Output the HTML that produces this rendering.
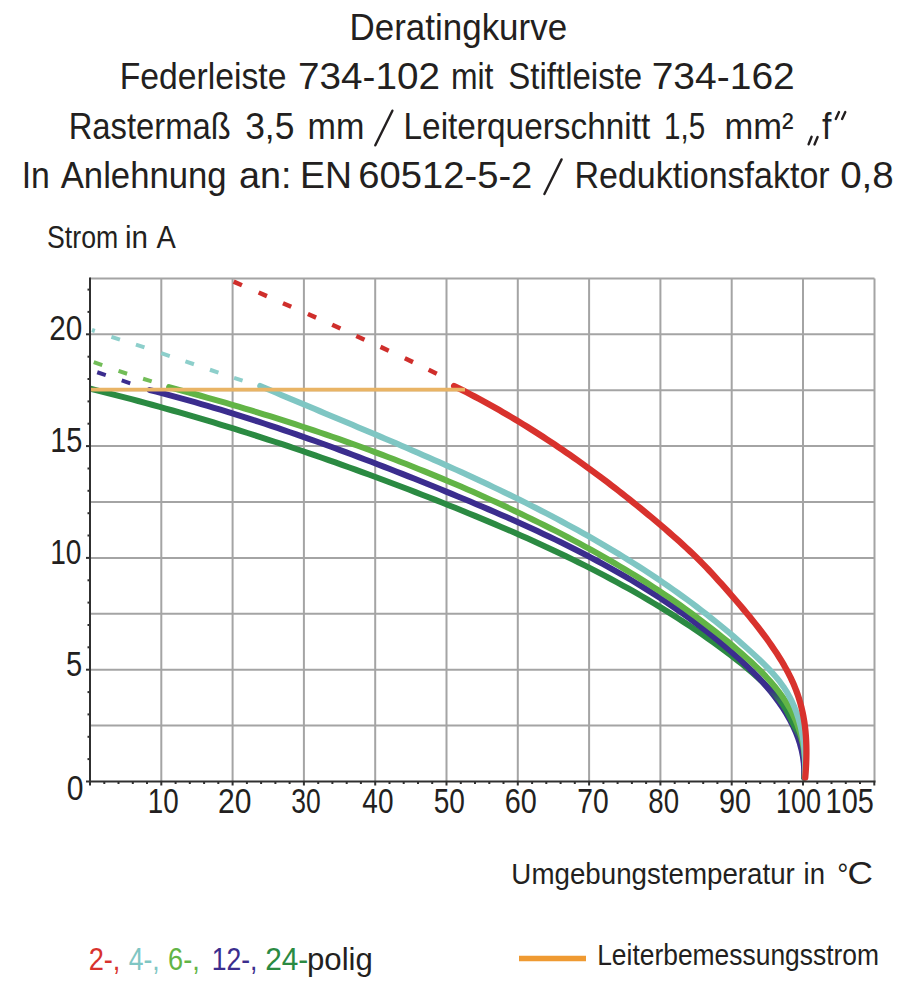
<!DOCTYPE html>
<html><head><meta charset="utf-8"><title>Deratingkurve</title>
<style>html,body{margin:0;padding:0;background:#fff;}body{width:917px;height:1000px;overflow:hidden;font-family:"Liberation Sans",sans-serif;}svg{display:block;}</style>
</head><body>
<svg width="917" height="1000" viewBox="0 0 917 1000" font-family="Liberation Sans, sans-serif" style="font-kerning:none">
<text x="349.53" y="40.00" font-size="37.00" textLength="217.62" lengthAdjust="spacingAndGlyphs" fill="#231f20">Deratingkurve</text>
<text x="119.73" y="89.20" font-size="37.00" textLength="166.76" lengthAdjust="spacingAndGlyphs" fill="#231f20">Federleiste</text>
<text x="298.02" y="89.20" font-size="37.00" textLength="141.93" lengthAdjust="spacingAndGlyphs" fill="#231f20">734-102</text>
<text x="450.88" y="89.20" font-size="37.00" textLength="42.55" lengthAdjust="spacingAndGlyphs" fill="#231f20">mit</text>
<text x="508.30" y="89.20" font-size="37.00" textLength="133.86" lengthAdjust="spacingAndGlyphs" fill="#231f20">Stiftleiste</text>
<text x="651.70" y="89.20" font-size="37.00" textLength="143.06" lengthAdjust="spacingAndGlyphs" fill="#231f20">734-162</text>
<text x="68.71" y="138.80" font-size="37.00" textLength="162.03" lengthAdjust="spacingAndGlyphs" fill="#231f20">Rastermaß</text>
<text x="245.15" y="138.80" font-size="37.00" textLength="49.24" lengthAdjust="spacingAndGlyphs" fill="#231f20">3,5</text>
<text x="307.53" y="138.80" font-size="37.00" textLength="56.92" lengthAdjust="spacingAndGlyphs" fill="#231f20">mm</text>
<text x="403.56" y="138.80" font-size="37.00" textLength="246.68" lengthAdjust="spacingAndGlyphs" fill="#231f20">Leiterquerschnitt</text>
<text x="664.04" y="138.80" font-size="37.00" textLength="41.20" lengthAdjust="spacingAndGlyphs" fill="#231f20">1,5</text>
<text x="724.51" y="138.80" font-size="37.00" textLength="69.05" lengthAdjust="spacingAndGlyphs" fill="#231f20">mm²</text>
<text x="822.12" y="138.80" font-size="37.00" textLength="9.43" lengthAdjust="spacingAndGlyphs" fill="#231f20">f</text>
<text x="21.68" y="188.00" font-size="37.00" textLength="28.22" lengthAdjust="spacingAndGlyphs" fill="#231f20">In</text>
<text x="60.73" y="188.00" font-size="37.00" textLength="165.90" lengthAdjust="spacingAndGlyphs" fill="#231f20">Anlehnung</text>
<text x="239.10" y="188.00" font-size="37.00" textLength="52.45" lengthAdjust="spacingAndGlyphs" fill="#231f20">an:</text>
<text x="299.93" y="188.00" font-size="37.00" textLength="52.03" lengthAdjust="spacingAndGlyphs" fill="#231f20">EN</text>
<text x="358.36" y="188.00" font-size="37.00" textLength="173.96" lengthAdjust="spacingAndGlyphs" fill="#231f20">60512-5-2</text>
<text x="574.41" y="188.00" font-size="37.00" textLength="255.26" lengthAdjust="spacingAndGlyphs" fill="#231f20">Reduktionsfaktor</text>
<text x="840.19" y="188.00" font-size="37.00" textLength="53.58" lengthAdjust="spacingAndGlyphs" fill="#231f20">0,8</text>
<line x1="375.3" y1="145.3" x2="392.4" y2="110.7" stroke="#231f20" stroke-width="2.4" stroke-linecap="round"/>
<line x1="544.4" y1="194.0" x2="561.6" y2="159.4" stroke="#231f20" stroke-width="2.4" stroke-linecap="round"/>
<line x1="808.6" y1="144.3" x2="811.6" y2="136.8" stroke="#231f20" stroke-width="2.4" stroke-linecap="round"/>
<line x1="814.5" y1="144.5" x2="817.6" y2="137.0" stroke="#231f20" stroke-width="2.4" stroke-linecap="round"/>
<line x1="835.8" y1="119.0" x2="839.0" y2="112.0" stroke="#231f20" stroke-width="2.4" stroke-linecap="round"/>
<line x1="842.1" y1="119.0" x2="845.3" y2="112.0" stroke="#231f20" stroke-width="2.4" stroke-linecap="round"/>
<text x="47.09" y="248.20" font-size="30.50" textLength="71.07" lengthAdjust="spacingAndGlyphs" fill="#231f20">Strom</text>
<text x="124.92" y="248.20" font-size="30.50" textLength="23.00" lengthAdjust="spacingAndGlyphs" fill="#231f20">in</text>
<text x="156.44" y="248.20" font-size="30.50" textLength="19.31" lengthAdjust="spacingAndGlyphs" fill="#231f20">A</text>
<g stroke="#a4a4a4" stroke-width="2"><line x1="161.3" y1="278.4" x2="161.3" y2="781.5"/><line x1="232.6" y1="278.4" x2="232.6" y2="781.5"/><line x1="303.9" y1="278.4" x2="303.9" y2="781.5"/><line x1="375.2" y1="278.4" x2="375.2" y2="781.5"/><line x1="446.5" y1="278.4" x2="446.5" y2="781.5"/><line x1="517.8" y1="278.4" x2="517.8" y2="781.5"/><line x1="589.1" y1="278.4" x2="589.1" y2="781.5"/><line x1="660.4" y1="278.4" x2="660.4" y2="781.5"/><line x1="731.7" y1="278.4" x2="731.7" y2="781.5"/><line x1="803.0" y1="278.4" x2="803.0" y2="781.5"/><line x1="874.5" y1="278.4" x2="874.5" y2="781.5"/><line x1="90.0" y1="725.6" x2="874.5" y2="725.6"/><line x1="90.0" y1="669.7" x2="874.5" y2="669.7"/><line x1="90.0" y1="613.8" x2="874.5" y2="613.8"/><line x1="90.0" y1="557.9" x2="874.5" y2="557.9"/><line x1="90.0" y1="502.0" x2="874.5" y2="502.0"/><line x1="90.0" y1="446.1" x2="874.5" y2="446.1"/><line x1="90.0" y1="390.2" x2="874.5" y2="390.2"/><line x1="90.0" y1="334.3" x2="874.5" y2="334.3"/><line x1="90.0" y1="278.4" x2="874.5" y2="278.4"/></g>
<line x1="233.68" y1="281.60" x2="241.92" y2="285.20" stroke="#cf2e2b" stroke-width="4.5"/>
<line x1="258.68" y1="292.49" x2="266.92" y2="296.11" stroke="#cf2e2b" stroke-width="4.5"/>
<line x1="282.98" y1="303.20" x2="291.22" y2="306.80" stroke="#cf2e2b" stroke-width="4.5"/>
<line x1="307.88" y1="313.99" x2="316.12" y2="317.61" stroke="#cf2e2b" stroke-width="4.5"/>
<line x1="332.20" y1="324.74" x2="340.40" y2="328.46" stroke="#cf2e2b" stroke-width="4.5"/>
<line x1="356.31" y1="335.92" x2="364.49" y2="339.68" stroke="#cf2e2b" stroke-width="4.5"/>
<line x1="380.51" y1="346.91" x2="388.69" y2="350.69" stroke="#cf2e2b" stroke-width="4.5"/>
<line x1="404.84" y1="358.27" x2="412.96" y2="362.13" stroke="#cf2e2b" stroke-width="4.5"/>
<line x1="428.65" y1="369.74" x2="436.75" y2="373.66" stroke="#cf2e2b" stroke-width="4.5"/>
<line x1="91.98" y1="330.01" x2="94.82" y2="330.99" stroke="#8dcfcb" stroke-width="4.0"/>
<line x1="111.43" y1="336.79" x2="119.97" y2="339.61" stroke="#8dcfcb" stroke-width="4.0"/>
<line x1="135.93" y1="344.59" x2="144.47" y2="347.41" stroke="#8dcfcb" stroke-width="4.0"/>
<line x1="161.24" y1="353.15" x2="169.76" y2="356.05" stroke="#8dcfcb" stroke-width="4.0"/>
<line x1="185.44" y1="361.35" x2="193.96" y2="364.25" stroke="#8dcfcb" stroke-width="4.0"/>
<line x1="209.94" y1="369.76" x2="218.46" y2="372.64" stroke="#8dcfcb" stroke-width="4.0"/>
<line x1="234.03" y1="377.78" x2="242.57" y2="380.62" stroke="#8dcfcb" stroke-width="4.0"/>
<line x1="93.75" y1="362.11" x2="102.25" y2="365.09" stroke="#72bd58" stroke-width="4.0"/>
<line x1="118.53" y1="370.87" x2="127.07" y2="373.73" stroke="#72bd58" stroke-width="4.0"/>
<line x1="143.11" y1="378.74" x2="151.69" y2="381.46" stroke="#72bd58" stroke-width="4.0"/>
<line x1="97.23" y1="372.27" x2="105.77" y2="375.13" stroke="#3b2d8e" stroke-width="4.0"/>
<line x1="121.73" y1="380.47" x2="130.27" y2="383.33" stroke="#3b2d8e" stroke-width="4.0"/>
<defs><clipPath id="plot"><rect x="91" y="270" width="790" height="511"/></clipPath></defs><g clip-path="url(#plot)">
<path d="M89.96,388.60 L96.88,390.31 L103.79,392.04 L110.70,393.80 L117.60,395.57 L124.49,397.37 L131.38,399.18 L138.26,401.02 L145.13,402.87 L152.00,404.75 L158.87,406.64 L165.73,408.55 L172.58,410.49 L179.43,412.44 L186.27,414.41 L193.10,416.40 L199.93,418.41 L206.75,420.44 L213.57,422.49 L220.38,424.55 L227.19,426.64 L233.99,428.74 L240.78,430.86 L247.57,433.00 L254.36,435.16 L261.13,437.34 L267.90,439.53 L274.67,441.74 L281.43,443.97 L288.18,446.22 L294.93,448.48 L301.67,450.77 L308.41,453.07 L315.14,455.38 L321.87,457.72 L328.58,460.07 L335.30,462.44 L342.01,464.82 L348.71,467.22 L355.40,469.64 L362.10,472.07 L368.78,474.52 L375.46,476.99 L382.13,479.47 L388.80,481.97 L395.46,484.49 L402.12,487.02 L408.77,489.56 L415.42,492.13 L422.05,494.70 L428.69,497.30 L435.32,499.91 L441.94,502.53 L448.56,505.17 L455.17,507.82 L461.77,510.49 L468.37,513.18 L474.96,515.89 L481.54,518.61 L488.11,521.36 L494.67,524.12 L501.23,526.91 L507.77,529.73 L514.30,532.56 L520.82,535.43 L527.32,538.32 L533.81,541.23 L540.29,544.18 L546.75,547.15 L553.20,550.16 L559.63,553.19 L566.05,556.26 L572.44,559.37 L578.82,562.50 L585.18,565.68 L591.53,568.89 L597.85,572.13 L604.15,575.42 L610.43,578.75 L616.69,582.11 L622.93,585.52 L629.14,588.97 L635.33,592.47 L641.50,596.01 L647.64,599.59 L653.75,603.22 L659.84,606.90 L665.91,610.63 L671.94,614.41 L677.95,618.24 L683.93,622.12 L689.88,626.05 L695.80,630.04 L701.69,634.08 L707.55,638.18 L713.38,642.33 L719.17,646.54 L724.93,650.82 L730.66,655.15 L736.35,659.54 L741.98,664.01 L747.54,668.56 L752.99,673.21 L758.30,677.97 L763.47,682.86 L768.44,687.88 L773.22,693.06 L777.75,698.40 L782.03,703.92 L786.03,709.63 L789.72,715.55 L793.07,721.66 L796.05,727.98 L798.63,734.50 L800.79,741.21 L802.48,748.12 L803.69,755.22 L804.38,762.50 L804.52,769.97 L804.08,777.63" fill="none" stroke="#2b8a42" stroke-width="6.0" stroke-linecap="round" stroke-linejoin="round"/>
<path d="M149.80,390.04 L156.26,391.70 L162.72,393.39 L169.16,395.10 L175.60,396.84 L182.02,398.60 L188.44,400.39 L194.85,402.21 L201.25,404.05 L207.64,405.92 L214.02,407.81 L220.40,409.72 L226.76,411.66 L233.12,413.62 L239.47,415.60 L245.81,417.60 L252.14,419.63 L258.47,421.68 L264.79,423.75 L271.10,425.84 L277.40,427.95 L283.70,430.08 L289.99,432.23 L296.28,434.40 L302.55,436.59 L308.83,438.80 L315.09,441.02 L321.35,443.26 L327.60,445.53 L333.85,447.80 L340.10,450.10 L346.33,452.41 L352.56,454.74 L358.79,457.08 L365.01,459.44 L371.23,461.82 L377.44,464.21 L383.65,466.61 L389.86,469.03 L396.06,471.46 L402.25,473.90 L408.44,476.36 L414.63,478.83 L420.82,481.31 L427.00,483.80 L433.18,486.30 L439.35,488.82 L445.52,491.35 L451.69,493.88 L457.86,496.43 L464.02,498.99 L470.18,501.56 L476.33,504.15 L482.47,506.76 L488.61,509.38 L494.74,512.01 L500.86,514.67 L506.97,517.35 L513.07,520.05 L519.16,522.77 L525.23,525.52 L531.29,528.29 L537.34,531.09 L543.38,533.91 L549.39,536.76 L555.40,539.64 L561.38,542.55 L567.35,545.50 L573.30,548.47 L579.23,551.48 L585.13,554.53 L591.02,557.61 L596.89,560.73 L602.73,563.89 L608.55,567.08 L614.34,570.32 L620.11,573.60 L625.86,576.92 L631.57,580.29 L637.26,583.70 L642.92,587.16 L648.55,590.66 L654.15,594.22 L659.72,597.82 L665.26,601.48 L670.77,605.18 L676.24,608.94 L681.68,612.76 L687.09,616.63 L692.46,620.56 L697.79,624.54 L703.08,628.58 L708.34,632.69 L713.56,636.85 L718.73,641.08 L723.87,645.37 L728.97,649.73 L734.02,654.15 L739.03,658.64 L743.96,663.20 L748.82,667.84 L753.59,672.57 L758.25,677.39 L762.78,682.30 L767.18,687.30 L771.42,692.42 L775.50,697.64 L779.39,702.97 L783.09,708.43 L786.57,714.01 L789.83,719.71 L792.82,725.55 L795.52,731.52 L797.91,737.63 L799.96,743.87 L801.64,750.26 L802.93,756.79 L803.80,763.46 L804.23,770.29 L804.18,777.26" fill="none" stroke="#3b2d8e" stroke-width="6.0" stroke-linecap="round" stroke-linejoin="round"/>
<defs><linearGradient id="dgo" gradientUnits="userSpaceOnUse" x1="0" y1="690" x2="0" y2="745"><stop offset="0" stop-color="#2b8a42" stop-opacity="0"/><stop offset="0.25" stop-color="#2b8a42" stop-opacity="1"/><stop offset="0.7" stop-color="#2b8a42" stop-opacity="1"/><stop offset="1" stop-color="#2b8a42" stop-opacity="0"/></linearGradient></defs>
<path d="M748.45,668.74 L749.76,669.94 L751.07,671.14 L752.38,672.34 L753.70,673.54 L755.02,674.74 L756.34,675.95 L757.65,677.15 L758.97,678.36 L760.28,679.58 L761.58,680.80 L762.88,682.03 L764.18,683.26 L765.46,684.50 L766.73,685.75 L768.00,687.01 L769.25,688.28 L770.48,689.56 L771.71,690.85 L772.91,692.15 L774.10,693.47 L775.27,694.80 L776.42,696.15 L777.55,697.51 L778.66,698.88 L779.75,700.28 L780.81,701.69 L781.84,703.12 L782.85,704.57 L783.82,706.04 L784.77,707.54 L785.69,709.05 L786.58,710.59 L787.43,712.15 L788.27,713.72 L789.08,715.31 L789.87,716.92 L790.66,718.53 L791.44,720.14 L792.22,721.76 L793.01,723.37 L793.81,724.98 L794.63,726.58 L795.45,728.17 L796.28,729.76 L797.10,731.34 L797.91,732.93 L798.70,734.52 L799.46,736.12 L800.18,737.72 L800.87,739.34 L801.50,740.97 L802.08,742.62 L802.58,744.28 L803.01,745.98 L803.35,747.70 L803.58,749.45 L803.71,751.25 L803.71,753.08 L803.58,754.96" fill="none" stroke="url(#dgo)" stroke-width="6.0" stroke-linecap="butt" stroke-linejoin="round"/>
<path d="M169.05,387.15 L175.39,388.84 L181.73,390.54 L188.06,392.26 L194.39,394.00 L200.72,395.76 L207.04,397.53 L213.35,399.32 L219.67,401.12 L225.97,402.95 L232.27,404.79 L238.57,406.65 L244.86,408.53 L251.15,410.43 L257.43,412.34 L263.71,414.27 L269.98,416.22 L276.24,418.19 L282.50,420.18 L288.75,422.19 L295.00,424.21 L301.24,426.26 L307.48,428.32 L313.70,430.41 L319.93,432.51 L326.14,434.63 L332.35,436.78 L338.55,438.94 L344.74,441.12 L350.93,443.33 L357.11,445.55 L363.28,447.79 L369.44,450.06 L375.60,452.34 L381.75,454.65 L387.89,456.98 L394.02,459.32 L400.15,461.69 L406.26,464.08 L412.37,466.50 L418.47,468.93 L424.56,471.38 L430.64,473.86 L436.71,476.36 L442.78,478.88 L448.83,481.43 L454.88,483.99 L460.91,486.58 L466.94,489.19 L472.95,491.83 L478.96,494.48 L484.96,497.16 L490.94,499.87 L496.92,502.59 L502.88,505.34 L508.84,508.12 L514.78,510.92 L520.72,513.74 L526.64,516.58 L532.55,519.45 L538.45,522.35 L544.34,525.27 L550.21,528.22 L556.07,531.20 L561.91,534.20 L567.73,537.24 L573.55,540.30 L579.34,543.40 L585.11,546.52 L590.87,549.68 L596.61,552.87 L602.33,556.09 L608.03,559.35 L613.70,562.64 L619.36,565.97 L624.99,569.33 L630.60,572.73 L636.19,576.16 L641.75,579.64 L647.29,583.15 L652.80,586.70 L658.29,590.29 L663.75,593.93 L669.18,597.60 L674.58,601.32 L679.96,605.07 L685.30,608.88 L690.62,612.72 L695.90,616.61 L701.15,620.55 L706.37,624.53 L711.56,628.56 L716.71,632.64 L721.83,636.76 L726.91,640.94 L731.96,645.16 L736.98,649.43 L741.95,653.76 L746.89,658.14 L751.76,662.58 L756.56,667.09 L761.25,671.70 L765.81,676.41 L770.23,681.23 L774.47,686.17 L778.52,691.25 L782.36,696.48 L785.96,701.88 L789.30,707.45 L792.36,713.20 L795.12,719.13 L797.57,725.22 L799.70,731.44 L801.49,737.78 L802.94,744.22 L804.03,750.72 L804.75,757.29 L805.09,763.88 L805.04,770.49 L804.57,777.09" fill="none" stroke="#62b446" stroke-width="6.0" stroke-linecap="round" stroke-linejoin="round"/>
<path d="M260.21,385.96 L265.59,388.26 L270.99,390.55 L276.39,392.85 L281.79,395.14 L287.21,397.42 L292.62,399.71 L298.05,401.99 L303.47,404.27 L308.90,406.56 L314.34,408.84 L319.78,411.12 L325.22,413.40 L330.66,415.68 L336.11,417.97 L341.56,420.26 L347.01,422.55 L352.46,424.84 L357.92,427.14 L363.37,429.44 L368.82,431.74 L374.28,434.05 L379.73,436.37 L385.18,438.69 L390.63,441.02 L396.08,443.35 L401.53,445.70 L406.97,448.05 L412.41,450.40 L417.85,452.77 L423.29,455.15 L428.72,457.53 L434.15,459.93 L439.57,462.34 L444.99,464.75 L450.40,467.18 L455.80,469.63 L461.20,472.08 L466.60,474.55 L471.98,477.03 L477.36,479.52 L482.74,482.03 L488.10,484.56 L493.46,487.10 L498.80,489.65 L504.14,492.22 L509.47,494.81 L514.79,497.42 L520.10,500.04 L525.40,502.68 L530.68,505.34 L535.96,508.02 L541.22,510.72 L546.47,513.44 L551.71,516.18 L556.94,518.94 L562.16,521.73 L567.36,524.53 L572.54,527.36 L577.71,530.21 L582.87,533.08 L588.01,535.98 L593.14,538.90 L598.25,541.85 L603.35,544.82 L608.43,547.82 L613.49,550.84 L618.54,553.90 L623.56,556.97 L628.57,560.08 L633.56,563.21 L638.54,566.38 L643.49,569.57 L648.42,572.79 L653.34,576.04 L658.23,579.32 L663.10,582.64 L667.96,585.98 L672.79,589.36 L677.60,592.77 L682.39,596.21 L687.15,599.69 L691.89,603.20 L696.61,606.74 L701.31,610.32 L705.98,613.93 L710.63,617.58 L715.25,621.27 L719.85,624.99 L724.42,628.75 L728.97,632.55 L733.49,636.38 L737.99,640.26 L742.46,644.17 L746.90,648.12 L751.31,652.11 L755.69,656.15 L760.03,660.23 L764.29,664.38 L768.45,668.61 L772.47,672.95 L776.33,677.39 L779.98,681.97 L783.42,686.70 L786.59,691.59 L789.49,696.65 L792.12,701.88 L794.48,707.24 L796.57,712.75 L798.41,718.37 L800.01,724.08 L801.37,729.88 L802.50,735.74 L803.42,741.64 L804.13,747.56 L804.65,753.49 L804.98,759.41 L805.14,765.29 L805.13,771.13 L804.97,776.89" fill="none" stroke="#7fc6c3" stroke-width="6.0" stroke-linecap="round" stroke-linejoin="round"/>
<path d="M454.11,386.01 L458.27,388.08 L462.42,390.18 L466.56,392.30 L470.68,394.44 L474.79,396.61 L478.89,398.80 L482.98,401.01 L487.06,403.25 L491.12,405.50 L495.17,407.78 L499.21,410.08 L503.24,412.40 L507.26,414.75 L511.26,417.11 L515.26,419.49 L519.24,421.90 L523.20,424.33 L527.16,426.77 L531.11,429.24 L535.04,431.72 L538.96,434.23 L542.87,436.75 L546.77,439.29 L550.66,441.85 L554.53,444.43 L558.40,447.03 L562.25,449.65 L566.09,452.28 L569.92,454.93 L573.73,457.60 L577.54,460.29 L581.33,462.99 L585.11,465.71 L588.88,468.44 L592.64,471.19 L596.39,473.96 L600.13,476.74 L603.85,479.54 L607.57,482.35 L611.27,485.18 L614.96,488.02 L618.64,490.88 L622.30,493.75 L625.96,496.63 L629.60,499.53 L633.24,502.44 L636.86,505.37 L640.47,508.31 L644.07,511.26 L647.66,514.22 L651.23,517.19 L654.80,520.18 L658.36,523.18 L661.90,526.19 L665.43,529.22 L668.95,532.25 L672.45,535.31 L675.93,538.38 L679.39,541.47 L682.83,544.58 L686.24,547.72 L689.62,550.89 L692.98,554.08 L696.30,557.31 L699.58,560.57 L702.84,563.86 L706.05,567.18 L709.24,570.54 L712.40,573.92 L715.54,577.33 L718.65,580.76 L721.75,584.22 L724.83,587.69 L727.90,591.19 L730.96,594.70 L734.02,598.22 L737.07,601.76 L740.10,605.31 L743.12,608.89 L746.13,612.48 L749.11,616.09 L752.06,619.72 L754.99,623.37 L757.88,627.05 L760.74,630.75 L763.55,634.48 L766.32,638.24 L769.04,642.02 L771.72,645.84 L774.33,649.69 L776.89,653.57 L779.38,657.49 L781.81,661.44 L784.16,665.43 L786.42,669.47 L788.59,673.54 L790.65,677.67 L792.60,681.83 L794.43,686.05 L796.14,690.32 L797.70,694.64 L799.13,699.02 L800.42,703.44 L801.58,707.90 L802.61,712.41 L803.51,716.95 L804.28,721.53 L804.92,726.14 L805.44,730.78 L805.84,735.44 L806.13,740.11 L806.31,744.80 L806.40,749.50 L806.40,754.20 L806.31,758.90 L806.15,763.58 L805.91,768.26 L805.62,772.91 L805.26,777.55" fill="none" stroke="#d8322d" stroke-width="6.3" stroke-linecap="round" stroke-linejoin="round"/>
</g>
<line x1="90" y1="389.6" x2="465" y2="389.6" stroke="#e9b465" stroke-width="3.6"/>
<g stroke="#303030" stroke-width="2"><line x1="90.0" y1="277.4" x2="90.0" y2="782.5"/><line x1="89.0" y1="781.5" x2="875.5" y2="781.5"/><line x1="86.0" y1="781.5" x2="90.0" y2="781.5"/><line x1="87.5" y1="759.1" x2="90.0" y2="759.1"/><line x1="87.5" y1="736.8" x2="90.0" y2="736.8"/><line x1="87.5" y1="714.4" x2="90.0" y2="714.4"/><line x1="87.5" y1="692.1" x2="90.0" y2="692.1"/><line x1="86.0" y1="669.7" x2="90.0" y2="669.7"/><line x1="87.5" y1="647.3" x2="90.0" y2="647.3"/><line x1="87.5" y1="625.0" x2="90.0" y2="625.0"/><line x1="87.5" y1="602.6" x2="90.0" y2="602.6"/><line x1="87.5" y1="580.3" x2="90.0" y2="580.3"/><line x1="86.0" y1="557.9" x2="90.0" y2="557.9"/><line x1="87.5" y1="535.5" x2="90.0" y2="535.5"/><line x1="87.5" y1="513.2" x2="90.0" y2="513.2"/><line x1="87.5" y1="490.8" x2="90.0" y2="490.8"/><line x1="87.5" y1="468.5" x2="90.0" y2="468.5"/><line x1="86.0" y1="446.1" x2="90.0" y2="446.1"/><line x1="87.5" y1="423.7" x2="90.0" y2="423.7"/><line x1="87.5" y1="401.4" x2="90.0" y2="401.4"/><line x1="87.5" y1="379.0" x2="90.0" y2="379.0"/><line x1="87.5" y1="356.7" x2="90.0" y2="356.7"/><line x1="86.0" y1="334.3" x2="90.0" y2="334.3"/><line x1="87.5" y1="311.9" x2="90.0" y2="311.9"/><line x1="87.5" y1="289.6" x2="90.0" y2="289.6"/><line x1="90.0" y1="781.5" x2="90.0" y2="785.5"/><line x1="104.3" y1="781.5" x2="104.3" y2="784.0"/><line x1="118.5" y1="781.5" x2="118.5" y2="784.0"/><line x1="132.8" y1="781.5" x2="132.8" y2="784.0"/><line x1="147.0" y1="781.5" x2="147.0" y2="784.0"/><line x1="161.3" y1="781.5" x2="161.3" y2="785.5"/><line x1="175.6" y1="781.5" x2="175.6" y2="784.0"/><line x1="189.8" y1="781.5" x2="189.8" y2="784.0"/><line x1="204.1" y1="781.5" x2="204.1" y2="784.0"/><line x1="218.3" y1="781.5" x2="218.3" y2="784.0"/><line x1="232.6" y1="781.5" x2="232.6" y2="785.5"/><line x1="246.9" y1="781.5" x2="246.9" y2="784.0"/><line x1="261.1" y1="781.5" x2="261.1" y2="784.0"/><line x1="275.4" y1="781.5" x2="275.4" y2="784.0"/><line x1="289.6" y1="781.5" x2="289.6" y2="784.0"/><line x1="303.9" y1="781.5" x2="303.9" y2="785.5"/><line x1="318.2" y1="781.5" x2="318.2" y2="784.0"/><line x1="332.4" y1="781.5" x2="332.4" y2="784.0"/><line x1="346.7" y1="781.5" x2="346.7" y2="784.0"/><line x1="360.9" y1="781.5" x2="360.9" y2="784.0"/><line x1="375.2" y1="781.5" x2="375.2" y2="785.5"/><line x1="389.5" y1="781.5" x2="389.5" y2="784.0"/><line x1="403.7" y1="781.5" x2="403.7" y2="784.0"/><line x1="418.0" y1="781.5" x2="418.0" y2="784.0"/><line x1="432.2" y1="781.5" x2="432.2" y2="784.0"/><line x1="446.5" y1="781.5" x2="446.5" y2="785.5"/><line x1="460.8" y1="781.5" x2="460.8" y2="784.0"/><line x1="475.0" y1="781.5" x2="475.0" y2="784.0"/><line x1="489.3" y1="781.5" x2="489.3" y2="784.0"/><line x1="503.5" y1="781.5" x2="503.5" y2="784.0"/><line x1="517.8" y1="781.5" x2="517.8" y2="785.5"/><line x1="532.1" y1="781.5" x2="532.1" y2="784.0"/><line x1="546.3" y1="781.5" x2="546.3" y2="784.0"/><line x1="560.6" y1="781.5" x2="560.6" y2="784.0"/><line x1="574.8" y1="781.5" x2="574.8" y2="784.0"/><line x1="589.1" y1="781.5" x2="589.1" y2="785.5"/><line x1="603.4" y1="781.5" x2="603.4" y2="784.0"/><line x1="617.6" y1="781.5" x2="617.6" y2="784.0"/><line x1="631.9" y1="781.5" x2="631.9" y2="784.0"/><line x1="646.1" y1="781.5" x2="646.1" y2="784.0"/><line x1="660.4" y1="781.5" x2="660.4" y2="785.5"/><line x1="674.7" y1="781.5" x2="674.7" y2="784.0"/><line x1="688.9" y1="781.5" x2="688.9" y2="784.0"/><line x1="703.2" y1="781.5" x2="703.2" y2="784.0"/><line x1="717.4" y1="781.5" x2="717.4" y2="784.0"/><line x1="731.7" y1="781.5" x2="731.7" y2="785.5"/><line x1="746.0" y1="781.5" x2="746.0" y2="784.0"/><line x1="760.2" y1="781.5" x2="760.2" y2="784.0"/><line x1="774.5" y1="781.5" x2="774.5" y2="784.0"/><line x1="788.7" y1="781.5" x2="788.7" y2="784.0"/><line x1="803.0" y1="781.5" x2="803.0" y2="785.5"/><line x1="817.3" y1="781.5" x2="817.3" y2="784.0"/><line x1="831.5" y1="781.5" x2="831.5" y2="784.0"/><line x1="845.8" y1="781.5" x2="845.8" y2="784.0"/><line x1="860.0" y1="781.5" x2="860.0" y2="784.0"/><line x1="874.3" y1="781.5" x2="874.3" y2="785.5"/></g>
<text x="49.31" y="340.40" font-size="34.50" textLength="33.06" lengthAdjust="spacingAndGlyphs" fill="#231f20">20</text>
<text x="50.19" y="452.40" font-size="34.50" textLength="32.22" lengthAdjust="spacingAndGlyphs" fill="#231f20">15</text>
<text x="50.26" y="564.40" font-size="34.50" textLength="31.24" lengthAdjust="spacingAndGlyphs" fill="#231f20">10</text>
<text x="65.93" y="676.00" font-size="34.50" textLength="16.19" lengthAdjust="spacingAndGlyphs" fill="#231f20">5</text>
<text x="66.72" y="799.70" font-size="34.50" textLength="16.75" lengthAdjust="spacingAndGlyphs" fill="#231f20">0</text>
<text x="147.78" y="813.20" font-size="34.50" textLength="30.90" lengthAdjust="spacingAndGlyphs" fill="#231f20">10</text>
<text x="218.09" y="813.20" font-size="34.50" textLength="33.38" lengthAdjust="spacingAndGlyphs" fill="#231f20">20</text>
<text x="291.29" y="813.20" font-size="34.50" textLength="29.44" lengthAdjust="spacingAndGlyphs" fill="#231f20">30</text>
<text x="362.36" y="813.20" font-size="34.50" textLength="31.14" lengthAdjust="spacingAndGlyphs" fill="#231f20">40</text>
<text x="433.68" y="813.20" font-size="34.50" textLength="31.22" lengthAdjust="spacingAndGlyphs" fill="#231f20">50</text>
<text x="504.73" y="813.20" font-size="34.50" textLength="32.09" lengthAdjust="spacingAndGlyphs" fill="#231f20">60</text>
<text x="577.26" y="813.20" font-size="34.50" textLength="31.35" lengthAdjust="spacingAndGlyphs" fill="#231f20">70</text>
<text x="648.30" y="813.20" font-size="34.50" textLength="30.78" lengthAdjust="spacingAndGlyphs" fill="#231f20">80</text>
<text x="719.05" y="813.20" font-size="34.50" textLength="32.08" lengthAdjust="spacingAndGlyphs" fill="#231f20">90</text>
<text x="775.94" y="813.20" font-size="34.50" textLength="45.12" lengthAdjust="spacingAndGlyphs" fill="#231f20">100</text>
<text x="825.60" y="813.20" font-size="34.50" textLength="48.21" lengthAdjust="spacingAndGlyphs" fill="#231f20">105</text>
<text x="511.36" y="884.00" font-size="29.50" textLength="283.50" lengthAdjust="spacingAndGlyphs" fill="#231f20">Umgebungstemperatur</text>
<text x="803.56" y="884.00" font-size="29.50" textLength="21.43" lengthAdjust="spacingAndGlyphs" fill="#231f20">in</text>
<text x="837.34" y="884.00" font-size="29.50" textLength="11.13" lengthAdjust="spacingAndGlyphs" fill="#231f20">°</text>
<text x="847.61" y="884.00" font-size="31.50" textLength="25.43" lengthAdjust="spacingAndGlyphs" fill="#231f20">C</text>
<text x="88.63" y="969.70" font-size="30.50" textLength="31.82" lengthAdjust="spacingAndGlyphs" fill="#d8322d">2-,</text>
<text x="128.69" y="969.70" font-size="30.50" textLength="31.00" lengthAdjust="spacingAndGlyphs" fill="#7fc6c3">4-,</text>
<text x="168.12" y="969.70" font-size="30.50" textLength="31.72" lengthAdjust="spacingAndGlyphs" fill="#62b446">6-,</text>
<text x="211.68" y="969.70" font-size="30.50" textLength="45.70" lengthAdjust="spacingAndGlyphs" fill="#3b2d8e">12-,</text>
<text x="265.20" y="969.70" font-size="30.50" textLength="43.13" lengthAdjust="spacingAndGlyphs" fill="#2b8a42">24-</text>
<text x="306.99" y="969.70" font-size="30.50" textLength="65.82" lengthAdjust="spacingAndGlyphs" fill="#231f20">polig</text>
<line x1="519" y1="958.5" x2="586" y2="958.5" stroke="#ef9a32" stroke-width="5.6"/>
<text x="597.13" y="965.20" font-size="29.50" textLength="281.91" lengthAdjust="spacingAndGlyphs" fill="#231f20">Leiterbemessungsstrom</text>
</svg>
</body></html>
